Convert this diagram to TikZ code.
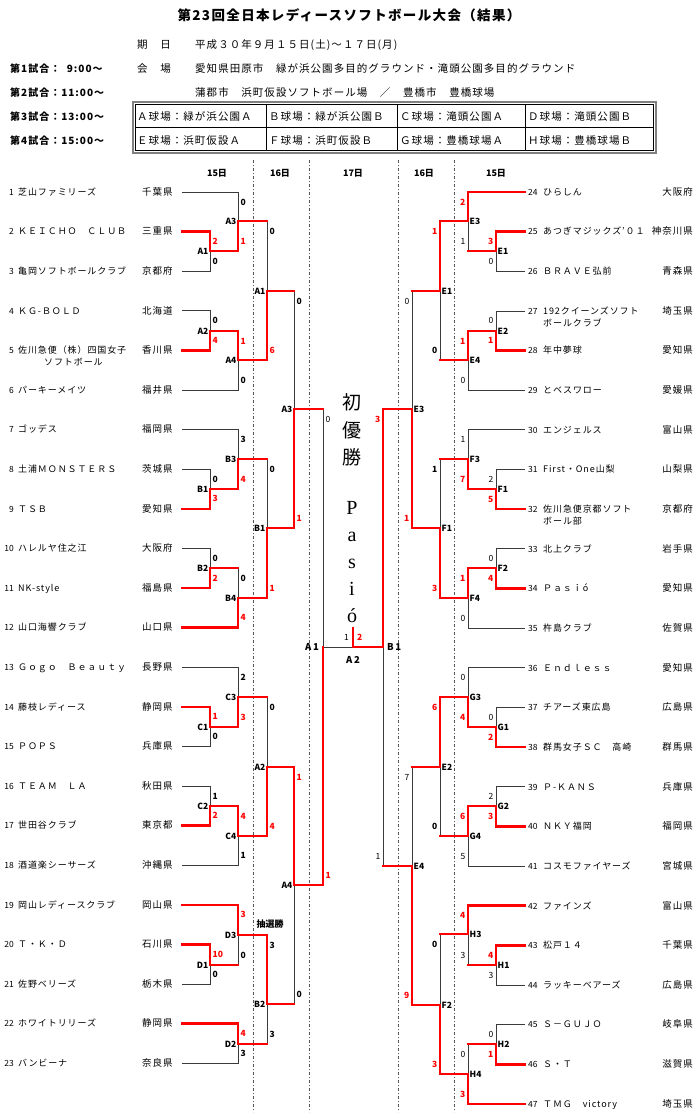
\documentclass[tikz,border=0pt]{standalone}
\usepackage{fontspec}
\setmainfont{Noto Sans CJK JP}
\newfontfamily\tmfont[LetterSpace=10]{Noto Sans CJK JP}
\newfontfamily\pasiofont{Liberation Serif}
\usetikzlibrary{positioning}
\definecolor{winred}{HTML}{FF0000}
\definecolor{losegray}{HTML}{3A3A3A}
\definecolor{sepgray}{HTML}{555555}
\pgfdeclarelayer{bg}
\pgfsetlayers{bg,main}

% one leg of a game: source, junction, score, where the score sits
\newcommand{\winleg}[4]{%
  \draw[winline] (#1) -| (#2);
  \node[winscore, #4] (s#1#2) at (#2 |- #1) {#3};}
\newcommand{\loseleg}[4]{%
  \begin{pgfonlayer}{bg}\draw[loseline] (#1) -| (#2);\end{pgfonlayer}
  \node[losescore, #4] (s#1#2) at (#2 |- #1) {#3};}
% loser that already won a game: its feed stays red
\newcommand{\feedleg}[4]{%
  \draw[winline] (#1) -- (#2 |- #1);
  \begin{pgfonlayer}{bg}\draw[loseline] (#2 |- #1) -- (#2);\end{pgfonlayer}
  \node[losescore, #4] (s#1#2) at (#2 |- #1) {#3};}
% two-line team name, first line on the row
\newcommand{\twoline}[2]{\begin{tabular}[t]{@{}l@{}}#1\\#2\end{tabular}}

\begin{document}
\begin{tikzpicture}[x=1pt, y=-1pt,
    winline/.style={draw=winred, line width=2.5pt, line cap=rect},
    loseline/.style={draw=losegray, line width=0.9pt},
    daysep/.style={draw=sepgray, line width=0.6pt, dash pattern=on 3pt off 2pt on 1pt off 2pt},
    sc/.style={inner sep=0pt, font=\fontsize{8.5}{9}\selectfont\bfseries},
    winscore/.style={sc, text=winred},
    losescore/.style={sc, text=black},
    thinsc/.style={font=\fontsize{8.5}{9}\selectfont},
    lt/.style={anchor=west, xshift=2.5pt, yshift=-10pt},
    lb/.style={anchor=west, xshift=2.5pt, yshift=10pt},
    rt/.style={anchor=east, xshift=-2.5pt, yshift=-10pt},
    rb/.style={anchor=east, xshift=-2.5pt, yshift=10pt},
    lj/.style={inner sep=0pt, anchor=east, xshift=-1.5pt, font=\fontsize{8.5}{9}\selectfont\bfseries},
    rj/.style={inner sep=0pt, anchor=west, xshift=1.5pt, font=\fontsize{8.5}{9}\selectfont\bfseries},
    tnum/.style={inner sep=0pt, font=\fontsize{8.5}{12}\selectfont, yshift=-3.3pt},
    tname/.style={inner sep=0pt, anchor=base west, font=\tmfont\fontsize{9}{12}\selectfont, yshift=-3.3pt},
    tpref/.style={inner sep=0pt, font=\tmfont\fontsize{9.5}{12}\selectfont, yshift=-3.3pt},
    ttl/.style={inner sep=0pt, font=\tmfont\fontsize{13.5}{15}\selectfont\bfseries},
    hd/.style={inner sep=0pt, anchor=base west, font=\tmfont\fontsize{10.5}{12}\selectfont},
    sess/.style={inner sep=0pt, anchor=base west, font=\tmfont\fontsize{10}{12}\selectfont\bfseries},
    day/.style={inner sep=0pt, font=\fontsize{9}{10}\selectfont\bfseries},
    fin/.style={inner sep=0pt, font=\fontsize{9.5}{10}\selectfont\bfseries},
    champ/.style={inner sep=0pt, align=center, font=\fontsize{19}{27.5}\selectfont},
    pasio/.style={inner sep=0pt, align=center, font=\pasiofont\fontsize{20}{27}\selectfont},
]
    \begin{pgfonlayer}{bg}
    \path[fill=white] (0,0) rectangle (700,1114);
    \end{pgfonlayer}
    \useasboundingbox (0,0) rectangle (700,1114);

    % Header
    \node[ttl] (title) at (349,15) {第23回全日本レディースソフトボール大会（結果）};
    \node[hd] (kday) at (137,48) {期　日};
    \node[hd] (date) at (195,48) {平成３０年９月１５日(土)～１７日(月)};
    \node[hd] (kplace) at (137,72) {会　場};
    \node[hd] (venue) at (195,72) {愛知県田原市　緑が浜公園多目的グラウンド・滝頭公園多目的グラウンド};
    \node[hd] (venue2) at (195,96) {蒲郡市　浜町仮設ソフトボール場　／　豊橋市　豊橋球場};
    \node[sess] (g1) at (10,72) {第1試合：\ \ 9:00～};
    \node[sess] (g2) at (10,96) {第2試合：11:00～};
    \node[sess] (g3) at (10,120) {第3試合：13:00～};
    \node[sess] (g4) at (10,144) {第4試合：15:00～};

    % Ground table
    \draw[draw=gray, line width=1.2pt] (133,102) rectangle (656,153);
    \draw[line width=0.6pt] (135.5,104.5) rectangle (653.5,150.5);
    \draw[line width=0.6pt] (135.5,127.5) -- (653.5,127.5);
    \foreach \xx in {266,397,525}
        \draw[line width=0.6pt] (\xx,104.5) -- (\xx,150.5);
    \foreach \xx/\up/\dn in {137/Ａ球場：緑が浜公園Ａ/Ｅ球場：浜町仮設Ａ,
        269/Ｂ球場：緑が浜公園Ｂ/Ｆ球場：浜町仮設Ｂ,
        400/Ｃ球場：滝頭公園Ａ/Ｇ球場：豊橋球場Ａ,
        528/Ｄ球場：滝頭公園Ｂ/Ｈ球場：豊橋球場Ｂ}{
        \node[hd] (ca\xx) at (\xx,120) {\up};
        \node[hd] (cb\xx) at (\xx,144) {\dn};
    }

    % Day columns
    \begin{pgfonlayer}{bg}
    \foreach \xx in {253,309,398,454}
        \draw[daysep] (\xx,160) -- (\xx,1112);
    \end{pgfonlayer}
    \node[day] (d15l) at (217,173) {15日};
    \node[day] (d16l) at (280,173) {16日};
    \node[day] (d17) at (353,173) {17日};
    \node[day] (d16r) at (424,173) {16日};
    \node[day] (d15r) at (496,173) {15日};

    % Left teams
    \foreach \nm/\pf [count=\i] in {芝山ファミリーズ/千葉県, ＫＥＩＣＨＯ　ＣＬＵＢ/三重県,
        亀岡ソフトボールクラブ/京都府, ＫＧ-ＢＯＬＤ/北海道,
        {\twoline{佐川急便（株）四国女子}{\hspace*{26pt}ソフトボール}}/香川県, パーキーメイツ/福井県,
        ゴッデス/福岡県, 土浦ＭＯＮＳＴＥＲＳ/茨城県, ＴＳＢ/愛知県,
        ハレルヤ住之江/大阪府, NK-style/福島県, 山口海響クラブ/山口県,
        Ｇｏｇｏ　Ｂｅａｕｔｙ/長野県, 藤枝レディース/静岡県, ＰＯＰＳ/兵庫県,
        ＴＥＡＭ　ＬＡ/秋田県, 世田谷クラブ/東京都, 酒道楽シーサーズ/沖縄県,
        岡山レディースクラブ/岡山県, Ｔ・Ｋ・Ｄ/石川県, 佐野ベリーズ/栃木県,
        ホワイトリリーズ/静岡県, バンビーナ/奈良県}{
        \pgfmathsetmacro\yy{192+39.6*(\i-1)}
        \node[tnum, anchor=base east] (no\i) at (14,\yy) {\i};
        \node[tname] (tm\i) at (18,\yy) {\nm};
        \node[tpref, anchor=base west] (pf\i) at (142,\yy) {\pf};
        \coordinate (L\i) at (182,\yy);
    }

    % Right teams
    \foreach \nm/\pf [count=\i from 24] in {ひらしん/大阪府, あつぎマジックズ’０１/神奈川県,
        ＢＲＡＶＥ弘前/青森県, {\twoline{192クイーンズソフト}{ボールクラブ}}/埼玉県,
        年中夢球/愛知県, とベスワロー/愛媛県, エンジェルス/富山県,
        First・One山梨/山梨県, {\twoline{佐川急便京都ソフト}{ボール部}}/京都府,
        北上クラブ/岩手県, Ｐａｓｉó/愛知県, 杵島クラブ/佐賀県,
        Ｅｎｄｌｅｓｓ/愛知県, チアーズ東広島/広島県, 群馬女子ＳＣ　高崎/群馬県,
        Ｐ-ＫＡＮＳ/兵庫県, ＮＫＹ福岡/福岡県, コスモファイヤーズ/宮城県,
        ファインズ/富山県, 松戸１４/千葉県, ラッキーベアーズ/広島県,
        Ｓ－ＧＵＪＯ/岐阜県, Ｓ・Ｔ/滋賀県, ＴＭＧ　victory/埼玉県}{
        \pgfmathsetmacro\yy{192+39.65*(\i-24)}
        \node[tnum, anchor=base west] (no\i) at (528,\yy) {\i};
        \node[tname] (tm\i) at (543,\yy) {\nm};
        \node[tpref, anchor=base east] (pf\i) at (693,\yy) {\pf};
        \coordinate (R\i) at (525,\yy);
    }

    % Game junctions
    \foreach \j/\xx/\yy in {A1/210/251, A3/238/221, A2/210/331, A4/238/360,
        B1/210/489, B3/238/459, B2/210/568, B4/238/598,
        C1/210/727, C3/238/697, C2/210/806, C4/238/836,
        D1/210/965, D3/238/935, D2/238/1044,
        sA1/267/291, sB1/267/528, sA2/267/767, sB2/267/1004, sA3/294/409, sA4/294/885,
        fA1/323/647, fA2/353/647, fB1/383/647, crown/353/628,
        E1/496/251, E3/468/221, E2/496/331, E4/468/360,
        F1/496/489, F3/468/459, F2/496/568, F4/468/598,
        G1/496/727, G3/468/697, G2/496/806, G4/468/836,
        H1/496/965, H3/468/934, H2/496/1044, H4/468/1074,
        sE1/440/291, sF1/440/528, sE2/440/767, sF2/440/1005, sE3/412/409, sE4/412/866}
        \coordinate (\j) at (\xx,\yy);

    % Left side, 15th
    \winleg{L2}{A1}{2}{lt}  \loseleg{L3}{A1}{0}{lb}
    \loseleg{L1}{A3}{0}{lt} \winleg{A1}{A3}{1}{lb}
    \loseleg{L4}{A2}{0}{lt} \winleg{L5}{A2}{4}{lb}
    \winleg{A2}{A4}{1}{lt}  \loseleg{L6}{A4}{0}{lb}
    \loseleg{L8}{B1}{0}{lt} \winleg{L9}{B1}{3}{lb}
    \loseleg{L7}{B3}{3}{lt} \winleg{B1}{B3}{4}{lb}
    \loseleg{L10}{B2}{0}{lt} \winleg{L11}{B2}{2}{lb}
    \feedleg{B2}{B4}{0}{lt} \winleg{L12}{B4}{4}{lb}
    \winleg{L14}{C1}{1}{lt} \loseleg{L15}{C1}{0}{lb}
    \loseleg{L13}{C3}{2}{lt} \winleg{C1}{C3}{3}{lb}
    \loseleg{L16}{C2}{1}{lt} \winleg{L17}{C2}{2}{lb}
    \winleg{C2}{C4}{4}{lt}  \loseleg{L18}{C4}{1}{lb}
    \winleg{L20}{D1}{10}{lt} \loseleg{L21}{D1}{0}{lb}
    \winleg{L19}{D3}{3}{lt} \feedleg{D1}{D3}{0}{lb}
    \winleg{L22}{D2}{4}{lt} \loseleg{L23}{D2}{3}{lb}

    % Left side, 16th
    \feedleg{A3}{sA1}{0}{lt} \winleg{A4}{sA1}{6}{lb}
    \feedleg{B3}{sB1}{0}{lt} \winleg{B4}{sB1}{1}{lb}
    \feedleg{C3}{sA2}{0}{lt} \winleg{C4}{sA2}{4}{lb}
    \winleg{D3}{sB2}{\textcolor{black}{3}}{lt} \feedleg{D2}{sB2}{3}{lb}
    \feedleg{sA1}{sA3}{0}{lt} \winleg{sB1}{sA3}{1}{lb}
    \winleg{sA2}{sA4}{1}{lt} \feedleg{sB2}{sA4}{0}{lb}
    \node[day] (lottery) at (270,924) {抽選勝};

    % Right side, 15th
    \winleg{R25}{E1}{3}{rt} \loseleg{R26}{E1}{0}{rb,thinsc}
    \winleg{R24}{E3}{2}{rt} \feedleg{E1}{E3}{1}{rb,thinsc}
    \loseleg{R27}{E2}{0}{rt,thinsc} \winleg{R28}{E2}{1}{rb}
    \winleg{E2}{E4}{1}{rt} \loseleg{R29}{E4}{0}{rb,thinsc}
    \loseleg{R31}{F1}{2}{rt,thinsc} \winleg{R32}{F1}{5}{rb}
    \loseleg{R30}{F3}{1}{rt,thinsc} \winleg{F1}{F3}{7}{rb}
    \loseleg{R33}{F2}{0}{rt,thinsc} \winleg{R34}{F2}{4}{rb}
    \winleg{F2}{F4}{1}{rt} \loseleg{R35}{F4}{0}{rb,thinsc}
    \loseleg{R37}{G1}{0}{rt,thinsc} \winleg{R38}{G1}{2}{rb}
    \loseleg{R36}{G3}{0}{rt,thinsc} \winleg{G1}{G3}{4}{rb}
    \loseleg{R39}{G2}{2}{rt,thinsc} \winleg{R40}{G2}{3}{rb}
    \winleg{G2}{G4}{6}{rt} \loseleg{R41}{G4}{5}{rb,thinsc}
    \winleg{R43}{H1}{4}{rt} \loseleg{R44}{H1}{3}{rb,thinsc}
    \winleg{R42}{H3}{4}{rt} \feedleg{H1}{H3}{3}{rb,thinsc}
    \loseleg{R45}{H2}{0}{rt,thinsc} \winleg{R46}{H2}{1}{rb}
    \feedleg{H2}{H4}{0}{rt,thinsc} \winleg{R47}{H4}{3}{rb}

    % Right side, 16th
    \winleg{E3}{sE1}{1}{rt} \feedleg{E4}{sE1}{0}{rb}
    \feedleg{F3}{sF1}{1}{rt} \winleg{F4}{sF1}{3}{rb}
    \winleg{G3}{sE2}{6}{rt} \feedleg{G4}{sE2}{0}{rb}
    \feedleg{H3}{sF2}{0}{rt} \winleg{H4}{sF2}{3}{rb}
    \feedleg{sE1}{sE3}{0}{rt,thinsc} \winleg{sF1}{sE3}{1}{rb}
    \feedleg{sE2}{sE4}{7}{rt,thinsc} \winleg{sF2}{sE4}{9}{rb}

    % 17th: semis and final
    \feedleg{sA3}{fA1}{0}{lt,thinsc} \winleg{sA4}{fA1}{1}{lb}
    \winleg{sE3}{fB1}{3}{rt} \feedleg{sE4}{fB1}{1}{rb,thinsc}
    \begin{pgfonlayer}{bg}\draw[loseline] (fA1) -- (fA2);\end{pgfonlayer}
    \draw[winline] (fB1) -- (fA2) -- (crown);
    \node[losescore, thinsc, anchor=east] (sfA2) at (349,637) {1};
    \node[winscore, anchor=west] (sfB2) at (357,637) {2};

    % Game labels
    \foreach \j in {A1,A2,A3,A4,B1,B2,B3,B4,C1,C2,C3,C4,D1,D2,D3}
        \node[lj] (lab\j) at (\j) {\j};
    \foreach \j/\t in {sA1/A1,sA2/A2,sA3/A3,sA4/A4,sB1/B1,sB2/B2}
        \node[lj] (lab\j) at (\j) {\t};
    \foreach \j in {E1,E2,E3,E4,F1,F2,F3,F4,G1,G2,G3,G4,H1,H2,H3,H4}
        \node[rj] (lab\j) at (\j) {\j};
    \foreach \j/\t in {sE1/E1,sE2/E2,sE3/E3,sE4/E4,sF1/F1,sF2/F2}
        \node[rj] (lab\j) at (\j) {\t};
    \node[fin, anchor=east, xshift=-4pt] (labfA1) at (fA1) {A\,1};
    \node[fin, anchor=west, xshift=4pt] (labfB1) at (fB1) {B\,1};
    \node[fin, below=9pt of fA2] (labfA2) {A\,2};

    % Champion
    \node[champ] (first) at (352,430) {初\\優\\勝};
    \node[pasio] (winner) at (352,562) {P\\a\\s\\i\\ó};
\end{tikzpicture}
\end{document}
